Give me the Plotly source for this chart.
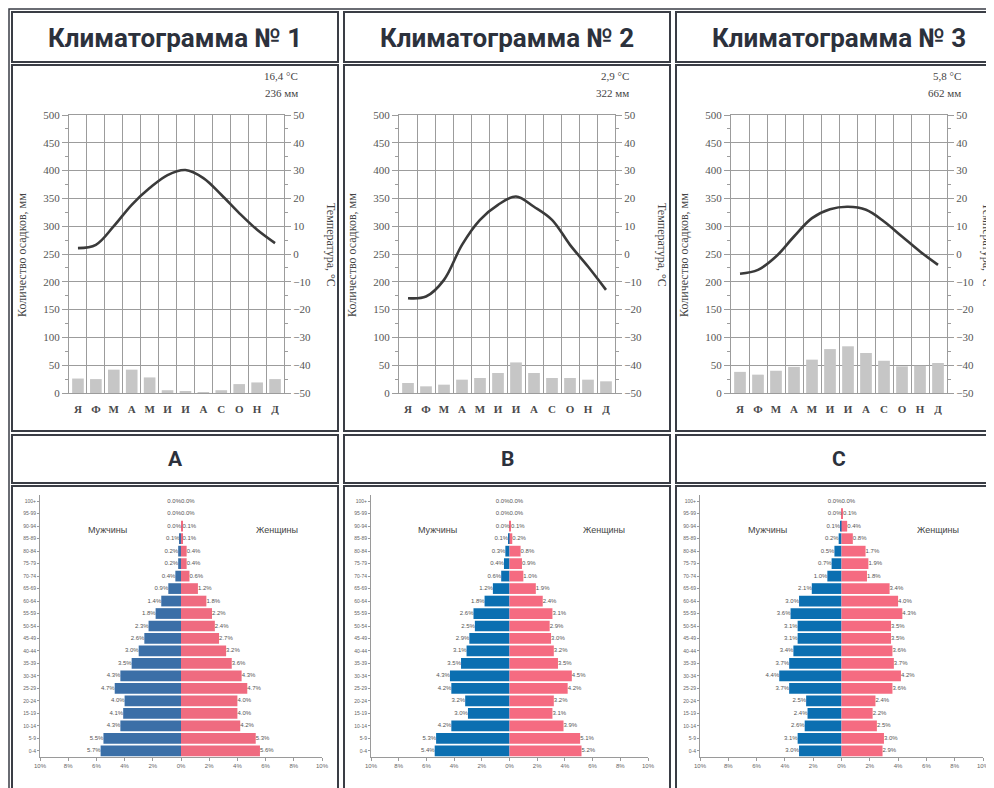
import plotly.graph_objects as go

# ---------------- data ----------------
months = ["Я", "Ф", "М", "А", "М", "И", "И", "А", "С", "О", "Н", "Д"]
month_pos = list(range(1, 13))

clim_titles = ["Климатограмма № 1", "Климатограмма № 2", "Климатограмма № 3"]
clim_mean_temp = ["16,4 °C", "2,9 °C", "5,8 °C"]
clim_total_precip = ["236 мм", "322 мм", "662 мм"]

precip_1 = [26, 25, 42, 42, 28, 5, 2, 1, 5, 16, 19, 25]
temp_1 = [2.1, 3.3, 10.0, 17.7, 23.7, 28.4, 30.2, 27.3, 21.3, 14.7, 8.7, 3.9]
precip_2 = [18, 12, 15, 24, 27, 36, 55, 36, 27, 27, 24, 21]
temp_2 = [-15.9, -15.3, -9.3, 3.3, 12.3, 17.7, 20.7, 17.0, 12.3, 3.3, -4.5, -12.9]
precip_3 = [38, 33, 40, 47, 60, 79, 84, 72, 58, 48, 49, 54]
temp_3 = [-7.1, -5.7, -0.9, 6.3, 12.9, 16.1, 17.0, 15.9, 11.7, 6.3, 0.9, -3.9]

precips = [precip_1, precip_2, precip_3]
temps = [temp_1, temp_2, temp_3]

pyr_titles = ["A", "B", "C"]
age_groups = ["0-4", "5-9", "10-14", "15-19", "20-24", "25-29", "30-34", "35-39",
              "40-44", "45-49", "50-54", "55-59", "60-64", "65-69", "70-74",
              "75-79", "80-84", "85-89", "90-94", "95-99", "100+"]

men_A = [5.7, 5.5, 4.3, 4.1, 4.0, 4.7, 4.3, 3.5, 3.0, 2.6, 2.3, 1.8, 1.4, 0.9, 0.4, 0.2, 0.2, 0.1, 0.0, 0.0, 0.0]
women_A = [5.6, 5.3, 4.2, 4.0, 4.0, 4.7, 4.3, 3.6, 3.2, 2.7, 2.4, 2.2, 1.8, 1.2, 0.6, 0.4, 0.4, 0.1, 0.1, 0.0, 0.0]
men_B = [5.4, 5.3, 4.2, 3.0, 3.2, 4.2, 4.3, 3.5, 3.1, 2.9, 2.5, 2.6, 1.8, 1.2, 0.6, 0.4, 0.3, 0.1, 0.0, 0.0, 0.0]
women_B = [5.2, 5.1, 3.9, 3.1, 3.2, 4.2, 4.5, 3.5, 3.2, 3.0, 2.9, 3.1, 2.4, 1.9, 1.0, 0.9, 0.8, 0.2, 0.1, 0.0, 0.0]
men_C = [3.0, 3.1, 2.6, 2.4, 2.5, 3.7, 4.4, 3.7, 3.4, 3.1, 3.1, 3.6, 3.0, 2.1, 1.0, 0.7, 0.5, 0.2, 0.1, 0.0, 0.0]
women_C = [2.9, 3.0, 2.5, 2.2, 2.4, 3.6, 4.2, 3.7, 3.6, 3.5, 3.5, 4.3, 4.0, 3.4, 1.8, 1.9, 1.7, 0.8, 0.4, 0.1, 0.0]

men_all = [men_A, men_B, men_C]
women_all = [women_A, women_B, women_C]

pct_ticks = [-10, -8, -6, -4, -2, 0, 2, 4, 6, 8, 10]
pct_labels = ["10%", "8%", "6%", "4%", "2%", "0%", "2%", "4%", "6%", "8%", "10%"]

# ---------------- layout helpers ----------------
W, H = 994, 788
OFF = 8  # page body margin: figure is drawn 8px from the page corner
def px(x):
    return (x - OFF) / W
def py(y):
    return 1 - (y - OFF) / H

SERIF = "Liberation Serif"
SANS = "Liberation Sans"
GRID = "#9c9c9c"
BORDER = "#3a3d45"

col_boxes = [(12, 338), (344, 670), (676, 1002)]
clim_plot_x = [(69, 284), (399, 615), (731, 947)]
pyr_plot_x = [(40, 322), (371, 648), (700, 983)]
men_colors = ["#3b6fa7", "#0b6fb1", "#0b6fb1"]
women_colors = ["#ef6b80", "#f56b81", "#f56b81"]

fig = go.Figure()
layout = dict(
    template="none",
    width=W, height=H, margin=dict(l=0, r=0, t=0, b=0, pad=0, autoexpand=False),
    paper_bgcolor="white", plot_bgcolor="white",
    showlegend=False, barmode="relative",
    annotations=[], shapes=[],
)

# table borders
layout["shapes"].append(dict(type="rect", xref="paper", yref="paper",
                             x0=px(9), x1=px(1010), y0=py(800), y1=py(9),
                             line=dict(color=BORDER, width=1.5)))
for (L, R) in col_boxes:
    for (T, B) in [(12, 62), (65, 431), (435, 483), (486, 800)]:
        layout["shapes"].append(dict(type="rect", xref="paper", yref="paper",
                                     x0=px(L), x1=px(R), y0=py(B), y1=py(T),
                                     line=dict(color=BORDER, width=2)))

# ---------------- climatograms ----------------
for i in range(3):
    xa = f"x{i+1}"
    yp = f"y{i+1}"
    yt = f"y{i+4}"
    L, R = clim_plot_x[i]
    fig.add_trace(go.Bar(x=month_pos, y=precips[i], xaxis=xa, yaxis=yp,
                         marker=dict(color="#c6c6c6", line=dict(width=0)),
                         width=0.65))
    fig.add_trace(go.Scatter(x=month_pos, y=temps[i], xaxis=xa, yaxis=yt,
                             mode="lines",
                             line=dict(color="#3a3a3a", width=2.6, shape="spline", smoothing=1.0)))
    layout[f"xaxis{i+1}"] = dict(
        domain=[px(L), px(R)], anchor=yp, range=[0.5, 12.5], automargin=False,
        tickmode="array", tickvals=month_pos, ticktext=months,
        ticks="", showgrid=False, zeroline=False,
        showline=True, mirror=True, linecolor=GRID, linewidth=1,
        ticklabelstandoff=6,
        tickfont=dict(family=SERIF, size=11, color="#4a4a4a", weight="bold"),
        minor=dict(tickmode="linear", tick0=0.5, dtick=1, showgrid=True,
                   gridcolor=GRID, gridwidth=1),
    )
    layout[f"yaxis{i+1}"] = dict(
        domain=[py(393), py(115)], anchor=xa, range=[0, 500], automargin=False,
        tickmode="linear", tick0=0, dtick=50,
        ticks="outside", ticklen=6, tickcolor=GRID,
        showgrid=True, gridcolor=GRID, gridwidth=1, zeroline=False,
        showline=True, mirror=True, linecolor=GRID, linewidth=1,
        tickfont=dict(family=SERIF, size=11, color="#555555"),
        minor=dict(dtick=25, ticks="outside", ticklen=3, tickcolor=GRID),
    )
    layout[f"yaxis{i+4}"] = dict(
        overlaying=yp, side="right", anchor=xa, range=[-50, 50], automargin=False,
        tickmode="linear", tick0=-50, dtick=10,
        ticks="outside", ticklen=6, tickcolor=GRID,
        showgrid=False, zeroline=False,
        tickfont=dict(family=SERIF, size=11, color="#555555"),
        minor=dict(dtick=5, ticks="outside", ticklen=3, tickcolor=GRID),
    )
    cL, cR = col_boxes[i]
    # header
    layout["annotations"].append(dict(
        x=px((cL + cR) / 2), y=py(38), xref="paper", yref="paper",
        text=clim_titles[i], showarrow=False, xanchor="center", yanchor="middle",
        font=dict(family="Roboto", size=26, color="#2c313c", weight="bold")))
    # mean values
    layout["annotations"].append(dict(
        x=px(R + 16), y=py(76), xref="paper", yref="paper",
        text=clim_mean_temp[i], showarrow=False, xanchor="right", yanchor="middle",
        font=dict(family=SERIF, size=11, color="#444444")))
    layout["annotations"].append(dict(
        x=px(R + 16), y=py(93), xref="paper", yref="paper",
        text=clim_total_precip[i], showarrow=False, xanchor="right", yanchor="middle",
        font=dict(family=SERIF, size=11, color="#444444")))
    # axis titles
    layout["annotations"].append(dict(
        x=px(L - 47), y=py(255), xref="paper", yref="paper", textangle=-90,
        text="Количество осадков, мм", showarrow=False, xanchor="center", yanchor="middle",
        font=dict(family=SERIF, size=12, color="#444444")))
    layout["annotations"].append(dict(
        x=px(min(R + 47, 987)), y=py(245), xref="paper", yref="paper", textangle=90,
        text="Температура, °С", showarrow=False, xanchor="center", yanchor="middle",
        font=dict(family=SERIF, size=12, color="#444444")))

# ---------------- population pyramids ----------------
idx = list(range(len(age_groups)))
for j in range(3):
    xa = f"x{j+4}"
    ya = f"y{j+7}"
    L, R = pyr_plot_x[j]
    men = men_all[j]
    women = women_all[j]
    fig.add_trace(go.Bar(y=idx, x=[-v for v in men], orientation="h", xaxis=xa, yaxis=ya,
                         marker=dict(color=men_colors[j], line=dict(width=0)), width=0.86))
    fig.add_trace(go.Bar(y=idx, x=women, orientation="h", xaxis=xa, yaxis=ya,
                         marker=dict(color=women_colors[j], line=dict(width=0)), width=0.86))
    fig.add_trace(go.Scatter(y=idx, x=[-v for v in men], xaxis=xa, yaxis=ya, mode="text",
                             text=[f"{v:.1f}%" for v in men], textposition="middle left",
                             textfont=dict(family=SANS, size=6, color="#555555")))
    fig.add_trace(go.Scatter(y=idx, x=women, xaxis=xa, yaxis=ya, mode="text",
                             text=[f"{v:.1f}%" for v in women], textposition="middle right",
                             textfont=dict(family=SANS, size=6, color="#555555")))
    layout[f"xaxis{j+4}"] = dict(
        domain=[px(L), px(R)], anchor=ya, range=[-10, 10], automargin=False,
        tickmode="array", tickvals=pct_ticks, ticktext=pct_labels,
        ticks="outside", ticklen=3, tickcolor="#9a9a9a",
        showline=True, linecolor="#9a9a9a", linewidth=1,
        showgrid=False, zeroline=False,
        tickfont=dict(family=SANS, size=6, color="#666666"),
    )
    layout[f"yaxis{j+7}"] = dict(
        domain=[py(757), py(495)], anchor=xa, range=[-0.5, 20.5], automargin=False,
        tickmode="array", tickvals=idx, ticktext=age_groups,
        ticks="outside", ticklen=2, tickcolor="#9a9a9a",
        showline=True, linecolor="#9a9a9a", linewidth=1,
        showgrid=False, zeroline=False,
        tickfont=dict(family=SANS, size=5, color="#666666"),
    )
    layout["annotations"].append(dict(
        x=-5.2, y=17.7, xref=xa, yref=ya, text="Мужчины", showarrow=False,
        font=dict(family=SANS, size=9, color="#444444")))
    layout["annotations"].append(dict(
        x=6.8, y=17.7, xref=xa, yref=ya, text="Женщины", showarrow=False,
        font=dict(family=SANS, size=9, color="#444444")))
    cL, cR = col_boxes[j]
    layout["annotations"].append(dict(
        x=px((cL + cR) / 2), y=py(459), xref="paper", yref="paper",
        text=pyr_titles[j], showarrow=False, xanchor="center", yanchor="middle",
        font=dict(family="Roboto", size=21, color="#2c313c", weight="bold")))

fig.update_layout(**layout)
fig.write_html("out.html")
